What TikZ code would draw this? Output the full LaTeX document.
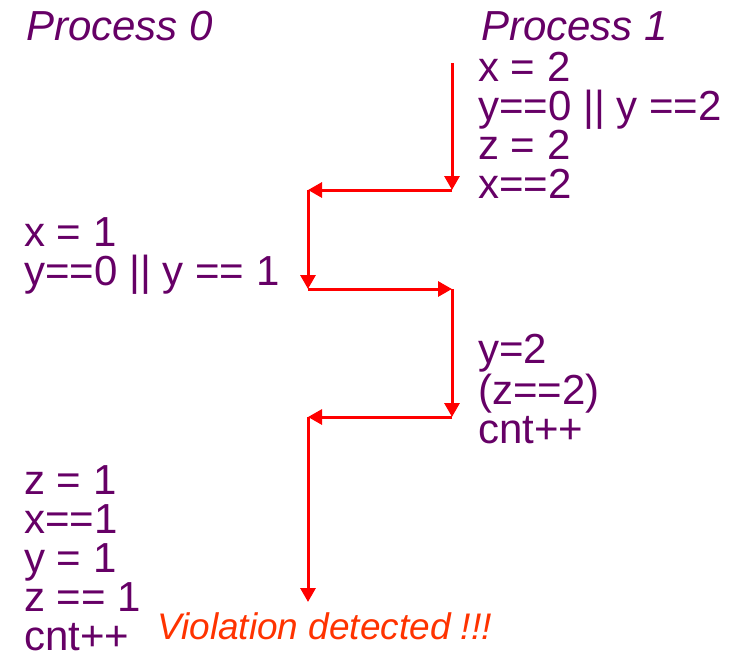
\documentclass[tikz,border=0pt]{standalone}
\usepackage{fontspec}
\setmainfont{Liberation Sans}
\usepackage{tikz}
\usetikzlibrary{arrows.meta}

\definecolor{proc}{RGB}{102,0,102}
\definecolor{alarm}{RGB}{255,51,0}

\tikzset{
	stmt/.style={anchor=base west, inner sep=0pt, align=left, text=proc,
		font=\fontsize{42}{39}\selectfont},
	title/.style={stmt, font=\fontsize{42}{39}\selectfont\itshape},
	flow/.style={draw=red, line width=3pt,
		-{Triangle[length=14pt,width=15pt]}}
}

\begin{document}
\begin{tikzpicture}[x=1pt,y=-1pt]

	\useasboundingbox (0,0) rectangle (734,657);

	\node[title] (p0) at (26,40) {Process 0};
	\node[title] (p1) at (481,40) {Process 1};

	% blocks sit on the baseline of their last line
	\node[stmt] (b1) at (478,198) {x = 2\\y==0 || y ==2\\z = 2\\x==2};
	\node[stmt] (a1) at (24,285) {x = 1\\y==0 || y == 1};
	\node[stmt] (b2) at (478,443) {y=2\\(z==2)\\cnt++};
	\node[stmt] (a2) at (24,650) {z = 1\\x==1\\y = 1\\z == 1\\cnt++};

	\node[title, text=alarm, font=\fontsize{37}{39}\selectfont\itshape]
		(bad) at (157,639) {Violation detected !!!};

	% the interleaving, step by step
	\coordinate (c1) at (452,63);
	\coordinate (c2) at (452,190);
	\coordinate (c3) at (308,190);
	\coordinate (c4) at (308,289);
	\coordinate (c5) at (452,289);
	\coordinate (c6) at (452,417);
	\coordinate (c7) at (308,417);
	\coordinate (c8) at (308,602);

	\foreach \i / \j in {1/2, 2/3, 3/4, 4/5, 5/6, 6/7, 7/8}
	{
		\path[flow] (c\i) -- (c\j);
	};
\end{tikzpicture}
\end{document}
